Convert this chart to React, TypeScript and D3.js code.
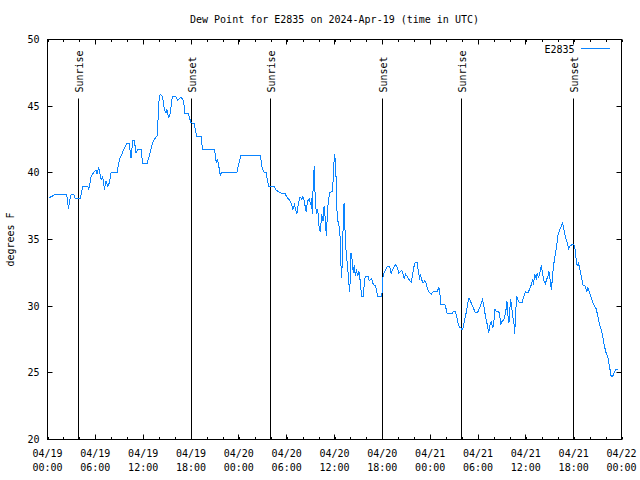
import React from "react";
import * as d3 from "d3";

const hours: number[] = [
  0.13, 0.88, 2.42, 2.63, 2.84, 2.96, 3.3, 3.47, 4.13, 4.42, 5.05, 5.17, 5.47, 5.76, 6.1, 6.22, 6.43, 6.72, 6.93, 7.14,
  7.35, 7.55, 7.76, 7.97, 8.72, 9.02, 9.22, 9.56, 9.98, 10.27, 10.39, 10.48, 10.68, 10.9, 11.1, 11.3, 11.73, 11.94, 12.48, 12.77,
  13.19, 13.6, 13.73, 13.82, 14.02, 14.15, 14.44, 14.65, 14.86, 14.98, 15.19, 15.4, 15.65, 16.1, 16.32, 16.74, 17.07, 17.24, 17.66, 18.0,
  18.4, 18.7, 19.25, 19.45, 20.95, 21.16, 21.28, 21.44, 21.66, 21.8, 23.75, 23.96, 24.25, 26.7, 26.88, 27.09, 27.42, 27.63, 27.76, 28.47,
  28.68, 29.18, 29.8, 30.0, 30.43, 30.64, 30.77, 30.98, 31.14, 31.27, 31.48, 31.68, 31.9, 32.02, 32.2, 32.43, 32.64, 32.84, 33.02, 33.1,
  33.22, 33.35, 33.47, 33.6, 33.77, 33.9, 34.06, 34.22, 34.39, 34.56, 34.69, 34.81, 34.98, 35.15, 35.32, 35.44, 35.73, 35.86, 35.98, 36.15,
  36.28, 36.48, 36.6, 36.73, 36.81, 36.9, 36.98, 37.1, 37.2, 37.28, 37.35, 37.55, 37.76, 37.88, 37.97, 38.07, 38.2, 38.36, 38.49, 38.61,
  38.74, 38.91, 39.07, 39.2, 39.32, 39.4, 39.61, 39.74, 39.86, 40.24, 40.36, 40.49, 40.66, 40.79, 40.91, 41.16, 41.33, 41.41, 41.9, 41.99,
  42.03, 42.16, 42.32, 42.53, 42.74, 42.91, 43.1, 43.28, 43.54, 43.66, 43.91, 44.07, 44.29, 44.45, 44.61, 44.74, 44.91, 45.16, 45.33, 45.62,
  45.87, 46.0, 46.12, 46.37, 46.55, 46.67, 46.8, 46.92, 47.13, 47.3, 47.46, 47.67, 47.92, 48.13, 48.38, 48.88, 49.09, 49.21, 49.34, 49.84,
  49.96, 50.13, 50.76, 50.88, 51.18, 51.3, 51.5, 51.67, 51.84, 52.0, 52.13, 52.34, 52.55, 52.75, 52.88, 53.1, 53.39, 53.68, 53.93, 54.22,
  54.55, 54.72, 54.93, 55.13, 55.26, 55.34, 55.51, 55.68, 55.8, 55.93, 56.13, 56.3, 56.59, 56.72, 56.84, 57.05, 57.26, 57.43, 57.55, 57.63,
  57.76, 57.88, 58.01, 58.1, 58.22, 58.39, 58.51, 58.6, 58.72, 58.85, 59.01, 59.22, 59.55, 59.76, 59.94, 60.26, 60.47, 60.68, 60.86, 60.97,
  61.1, 61.31, 61.43, 61.6, 61.76, 61.95, 62.1, 62.27, 62.45, 62.61, 62.78, 62.9, 63.07, 63.2, 63.32, 63.45, 63.61, 63.83, 64.03, 64.24,
  64.45, 64.62, 64.78, 64.95, 65.12, 65.37, 65.53, 65.78, 66.03, 66.2, 66.33, 66.45, 66.58, 66.74, 66.95, 67.15, 67.45, 67.65, 67.78, 67.99,
  68.28, 68.53, 68.83, 69.03, 69.24, 69.45, 69.65, 69.86, 70.07, 70.28, 70.49, 70.7, 70.91, 71.12, 71.33, 71.62,
];

const dewPoint: number[] = [
  38.1, 38.35, 38.35, 37.3, 38.1, 38.35, 38.35, 38.1, 38.1, 39.0, 39.0, 38.75, 39.7, 40.0, 40.2, 39.9, 40.4, 39.5, 39.7, 38.75,
  39.4, 39.0, 39.25, 40.0, 40.0, 41.0, 41.25, 41.75, 42.2, 42.2, 41.5, 41.1, 42.4, 42.4, 41.5, 41.75, 41.75, 40.7, 40.7, 41.25,
  42.25, 42.7, 42.7, 43.5, 45.75, 45.9, 45.7, 44.75, 44.5, 44.75, 44.1, 44.5, 45.7, 45.7, 45.45, 45.7, 45.4, 44.45, 44.45, 43.75,
  43.7, 42.75, 42.75, 41.75, 41.75, 40.75, 41.0, 40.7, 39.8, 40.0, 40.0, 40.6, 41.3, 41.3, 40.5, 40.07, 40.0, 39.3, 38.95, 38.95,
  38.7, 38.5, 38.45, 38.2, 37.9, 37.6, 37.25, 37.6, 37.25, 36.9, 37.75, 38.2, 38.0, 38.2, 37.9, 37.1, 37.9, 38.05, 37.6, 38.1,
  36.9, 39.6, 40.5, 37.6, 36.9, 37.25, 36.0, 35.55, 36.9, 36.4, 37.5, 36.75, 35.3, 37.4, 38.2, 38.55, 38.6, 39.75, 41.4, 40.75,
  37.4, 36.1, 36.0, 35.0, 33.1, 32.1, 33.6, 36.4, 37.75, 36.75, 34.9, 33.5, 32.1, 31.1, 31.9, 34.0, 33.5, 32.5, 33.1, 32.25,
  32.75, 32.25, 32.6, 32.0, 31.25, 30.75, 30.75, 31.75, 32.2, 32.2, 31.9, 32.0, 32.1, 31.75, 31.6, 31.55, 31.0, 30.7, 30.7, 31.1,
  32.0, 32.4, 32.6, 32.9, 33.0, 33.0, 32.45, 32.75, 33.0, 33.1, 32.9, 32.45, 32.6, 32.7, 32.4, 32.1, 32.4, 32.2, 32.0, 31.8,
  32.6, 33.07, 33.3, 33.3, 32.45, 32.1, 32.3, 32.0, 31.75, 31.9, 31.75, 31.25, 31.0, 30.9, 31.1, 31.1, 31.4, 31.0, 30.1, 30.1,
  29.9, 29.45, 29.45, 29.6, 29.6, 29.3, 28.75, 28.4, 28.4, 28.25, 28.4, 29.0, 29.6, 30.3, 30.6, 30.3, 29.9, 29.5, 29.5, 29.9,
  30.5, 30.1, 29.25, 28.7, 28.25, 28.0, 28.6, 28.9, 28.4, 28.5, 29.75, 29.6, 29.6, 29.4, 28.6, 28.9, 29.0, 29.4, 29.9, 30.4,
  29.25, 28.75, 29.9, 30.5, 29.9, 29.1, 28.75, 27.9, 29.4, 30.75, 30.5, 30.25, 30.3, 30.75, 31.1, 31.0, 31.25, 31.6, 32.0, 31.6,
  32.4, 32.1, 32.5, 32.1, 32.5, 33.1, 32.4, 31.9, 31.7, 32.0, 32.25, 32.6, 31.9, 31.25, 32.0, 32.9, 33.6, 34.4, 35.3, 35.75,
  36.0, 36.25, 35.75, 35.25, 34.9, 34.3, 34.5, 34.6, 34.6, 34.25, 33.4, 33.0, 33.25, 32.9, 32.25, 31.6, 31.5, 31.1, 31.4, 31.0,
  30.5, 30.1, 29.8, 29.25, 28.6, 28.25, 27.75, 27.0, 26.5, 26.2, 25.5, 24.75, 24.75, 25.1, 25.25, 25.25,
];

const sunEventHours: number[] = [3.92, 18.0, 27.93, 42.0, 51.9, 66.0];
const sunEventLabels: string[] = ["Sunrise", "Sunset", "Sunrise", "Sunset", "Sunrise", "Sunset"];
const yTicks: number[] = [20, 25, 30, 35, 40, 45, 50];
const titleText = "Dew Point for E2835 on 2024-Apr-19 (time in UTC)";
const yLabel = "degrees F";
const seriesName = "E2835";

const START = Date.UTC(2024, 3, 19);
const END = Date.UTC(2024, 3, 22);
const toDate = (h: number) => new Date(START + h * 3600 * 1000);

const FONT = "'DejaVu Sans Mono', monospace";
const BLUE = "#0a84ff";

export default function App() {
  const left = 47.5, right = 621.5, top = 39.5, bottom = 439.5;
  const x = d3.scaleUtc().domain([new Date(START), new Date(END)]).range([left, right]);
  const y = d3.scaleLinear().domain([20, 50]).range([bottom, top]);

  const majors = d3.utcHour.every(6)!.range(new Date(START), new Date(END + 1));
  const minors = d3.utcHour.every(2)!.range(new Date(START), new Date(END + 1));
  const fmtDate = d3.utcFormat("%m/%d");
  const fmtTime = d3.utcFormat("%H:%M");

  const pts = hours.map((h, i) => [toDate(h), dewPoint[i]] as [Date, number]);
  const line = d3
    .line<[Date, number]>()
    .x((d) => x(d[0]))
    .y((d) => y(d[1]));

  return (
    <svg
      width={640}
      height={480}
      style={{ position: "absolute", left: 0, top: 0, background: "#fff" }}
      fontFamily={FONT}
      fontSize={10}
    >
      <rect x={0} y={0} width={640} height={480} fill="#fff" />
      <text x={(left + right) / 2} y={23} textAnchor="middle" fill="#000">
        {titleText}
      </text>

      {/* minor x ticks */}
      {minors.map((d, i) => {
        const xx = Math.round(x(d)) + 0.5;
        return (
          <g key={"mn" + i}>
            <line x1={xx} x2={xx} y1={top} y2={top + 2.5} stroke="#000" />
            <line x1={xx} x2={xx} y1={bottom} y2={bottom - 2.5} stroke="#000" />
          </g>
        );
      })}
      {/* major x ticks and labels */}
      {majors.map((d, i) => {
        const xx = Math.round(x(d) - 0.5) + 0.5;
        return (
          <g key={"mj" + i}>
            <line x1={xx} x2={xx} y1={top} y2={top + 5} stroke="#000" />
            <line x1={xx} x2={xx} y1={bottom} y2={bottom - 5} stroke="#000" />
            <text x={x(d)} y={457} textAnchor="middle" fill="#000">
              {fmtDate(d)}
            </text>
            <text x={x(d)} y={471} textAnchor="middle" fill="#000">
              {fmtTime(d)}
            </text>
          </g>
        );
      })}
      {/* y ticks */}
      {yTicks.map((t) => {
        const yy = Math.round(y(t) - 0.5) + 0.5;
        return (
          <g key={"y" + t}>
            <line x1={left} x2={left + 5} y1={yy} y2={yy} stroke="#000" />
            <line x1={right} x2={right - 5} y1={yy} y2={yy} stroke="#000" />
            <text x={39.5} y={y(t)} dy="0.35em" textAnchor="end" fill="#000">
              {t}
            </text>
          </g>
        );
      })}

      <text
        transform={`translate(14, ${(top + bottom) / 2}) rotate(-90)`}
        textAnchor="middle"
        fill="#000"
      >
        {yLabel}
      </text>

      {/* sunrise/sunset markers */}
      {sunEventHours.map((h, i) => {
        const xx = Math.round(x(toDate(h)) - 0.5) + 0.5;
        return (
          <g key={"s" + i}>
            <line x1={xx} x2={xx} y1={98.5} y2={bottom} stroke="#000" />
            <text transform={`translate(${xx + 4.5}, 92.5) rotate(-90)`} textAnchor="start" fill="#000">
              {sunEventLabels[i]}
            </text>
          </g>
        );
      })}

      <path d={line(pts) || ""} fill="none" stroke={BLUE} strokeWidth={1} shapeRendering="crispEdges" />

      {/* legend */}
      <text x={574.5} y={52.5} textAnchor="end" fill="#000">
        {seriesName}
      </text>
      <line x1={581} x2={610} y1={48.5} y2={48.5} stroke={BLUE} />

      <rect x={left} y={top} width={right - left} height={bottom - top} fill="none" stroke="#000" />
    </svg>
  );
}
